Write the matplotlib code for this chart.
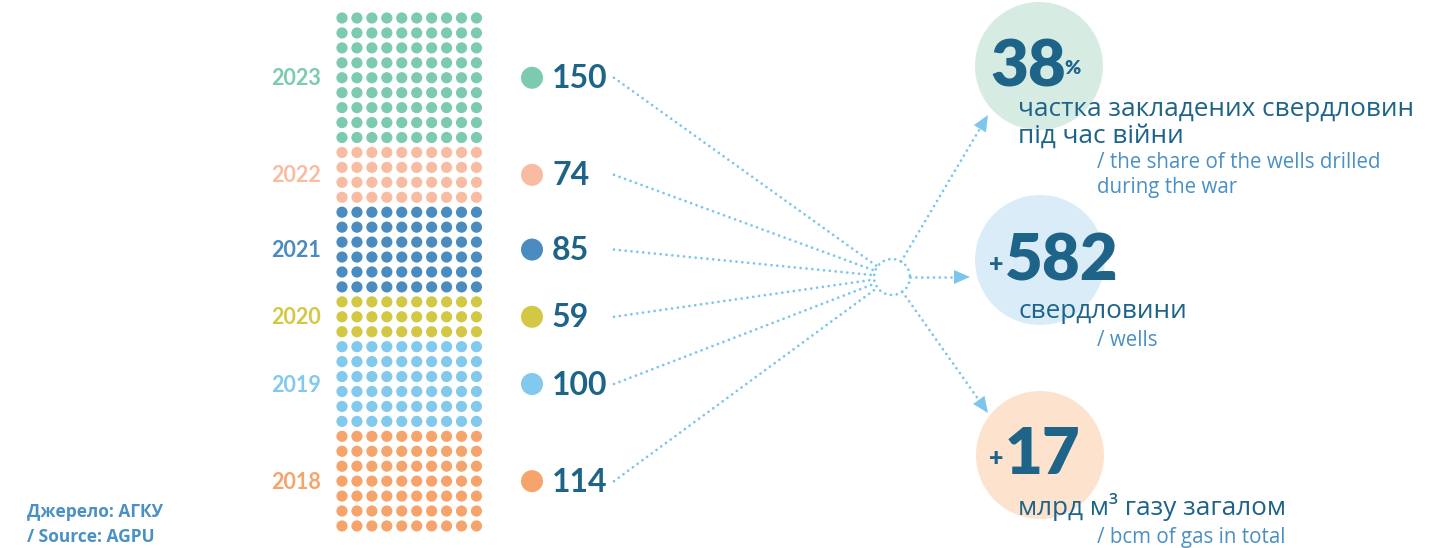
import matplotlib.pyplot as plt
import numpy as np
from matplotlib.patches import Circle, Polygon

# data (top of the stack = last entry)
years = ['2018', '2019', '2020', '2021', '2022', '2023']
wells = [114, 100, 59, 85, 74, 150]
dot_rows = [7, 6, 3, 6, 4, 9]          # rows of 10 dots per year
year_colors = ['#f6a46c', '#82c9ee', '#d2c843', '#4a8bc0', '#f9bca2', '#7ccaaf']

total_wells = sum(wells)
share_war = 38
gas_bcm = 17

# colours
dark = '#1e6388'
light = '#4a90c4'
line_c = '#7cc6ec'

plt.rcParams['font.family'] = ['Open Sans', 'DejaVu Sans']
num_font = ['Lato', 'Open Sans', 'DejaVu Sans']

fig = plt.figure(figsize=(14.54, 5.48), dpi=100)
ax = fig.add_axes([0, 0, 1, 1])
ax.set_xlim(0, 1454)
ax.set_ylim(548, 0)
ax.axis('off')

# dot grid
x0, y0, step, r_dot = 342, 18, 14.94, 5.6
row = 0
centers = {}
for yr, n, c in reversed(list(zip(years, dot_rows, year_colors))):
    ys = y0 + step * np.arange(row, row + n)
    for yy in ys:
        for k in range(10):
            ax.add_patch(Circle((x0 + step * k, yy), r_dot, color=c, lw=0))
    centers[yr] = ys.mean()
    row += n

hub = (892, 277)
hub_r = 18
dot_style = dict(color=line_c, lw=2.0, linestyle=(0, (0.01, 2.1)),
                 dash_capstyle='round', solid_capstyle='round')

for yr, w, c in zip(years, wells, year_colors):
    yc = centers[yr]
    ax.text(321, yc + 1, yr, color=c, fontsize=15.5, fontweight='bold',
            ha='right', va='center', family=num_font)
    ax.add_patch(Circle((532, yc), 11, color=c, lw=0))
    ax.text(552, yc + 1, str(w), color=dark, fontsize=23, fontweight='bold',
            ha='left', va='center', family=num_font)
    # dotted line to the hub
    sx, sy = 614, yc
    d = np.array([hub[0] - sx, hub[1] - sy])
    d = d / np.hypot(*d)
    ex, ey = hub[0] - d[0] * hub_r, hub[1] - d[1] * hub_r
    ax.plot([sx, ex], [sy, ey], **dot_style)

# hub circle
t = np.linspace(0, 2 * np.pi, 200)
ax.plot(hub[0] + hub_r * np.cos(t), hub[1] + hub_r * np.sin(t), **dot_style)

# result circles
big = [(1039, 66, 64, '#d6ece3'), (1040, 260, 65, '#daecf8'), (1040, 455, 64, '#fde3cd')]
for cx, cy, rr, fc in big:
    ax.add_patch(Circle((cx, cy), rr, color=fc, lw=0, zorder=0))

# arrows from the hub
tips = [(988, 115), (970, 277), (988, 413)]
for tx, ty in tips:
    d = np.array([tx - hub[0], ty - hub[1]], dtype=float)
    d = d / np.hypot(*d)
    nrm = np.array([-d[1], d[0]])
    sx, sy = hub[0] + d[0] * hub_r, hub[1] + d[1] * hub_r
    base = np.array([tx, ty]) - d * 16
    ax.plot([sx, base[0]], [sy, base[1]], **dot_style)
    head = [(tx, ty), tuple(base + nrm * 7), tuple(base - nrm * 7)]
    ax.add_patch(Polygon(head, closed=True, color=line_c, lw=0))

# big numbers
ax.text(990, 68, str(share_war), color=dark, fontsize=47, fontweight='heavy',
        ha='left', va='center', family=num_font)
ax.text(1064, 68, '%', color=dark, fontsize=14, fontweight='heavy',
        ha='left', va='center', family=num_font)
ax.text(989, 265, '+', color=dark, fontsize=18, fontweight='heavy',
        ha='left', va='center', family=num_font)
ax.text(1005, 262, str(total_wells), color=dark, fontsize=47, fontweight='heavy',
        ha='left', va='center', family=num_font)
ax.text(989, 459, '+', color=dark, fontsize=18, fontweight='heavy',
        ha='left', va='center', family=num_font)
ax.text(1005, 456, str(gas_bcm), color=dark, fontsize=47, fontweight='heavy',
        ha='left', va='center', family=num_font)

# captions
cap = dict(color=dark, fontsize=18.8, ha='left', va='center')
sub = dict(color=light, fontsize=14.8, ha='left', va='center')
ax.text(1018, 110, 'частка закладених свердловин', **cap)
ax.text(1018, 136, 'під час війни', **cap)
ax.text(1097, 162, '/ the share of the wells drilled', **sub)
ax.text(1097, 187, 'during the war', **sub)
ax.text(1018, 311, 'свердловини', **cap)
ax.text(1097, 341, '/ wells', **sub)
ax.text(1018, 507, 'млрд м³ газу загалом', **cap)
ax.text(1097, 537, '/ bcm of gas in total', **sub)

# source
ax.text(27, 512, 'Джерело: АГКУ', color=light, fontsize=12.5, fontweight='bold',
        ha='left', va='center')
ax.text(27, 537, '/ Source: AGPU', color=light, fontsize=12.5, fontweight='bold',
        ha='left', va='center')

fig.savefig('out.png', dpi=100)
